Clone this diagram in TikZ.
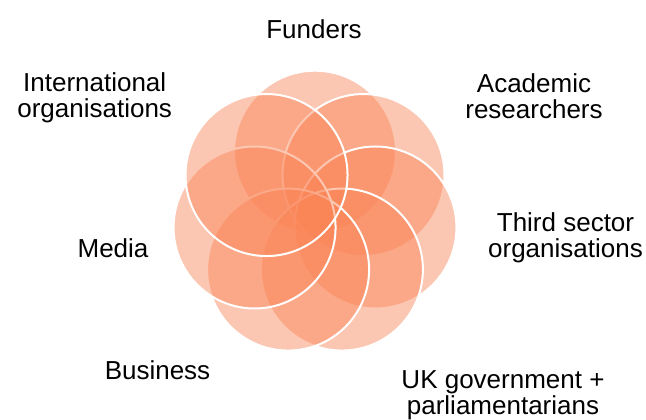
\documentclass[tikz,border=0pt]{standalone}
\usepackage{fontspec}
\setmainfont{Liberation Sans}
\definecolor{PetalFill}{RGB}{250,132,85}
\usetikzlibrary{calc}
\tikzset{
    petal/.style = {fill = PetalFill, fill opacity = 0.45, draw = white, line width = 2pt},
    stakeholder/.style = {align = center, inner sep = 0pt, font = \fontsize{26}{26}\selectfont}
}

\begin{document}
\begin{tikzpicture}[x = 1pt, y = -1pt]

\useasboundingbox[fill = white] (0, 0) rectangle (646, 420);

\coordinate (Hub) at (315, 213.7);
\foreach \k in {0, ..., 6}
    \draw[petal] ($(Hub) + ({-90 + \k*360/7}:62)$) circle [radius = 81];

\node[stakeholder] (Funders) at (314, 29) {Funders};
\node[stakeholder] (Academic) at (534, 96) {Academic\\researchers};
\node[stakeholder] (ThirdSector) at (565.5, 238) {Third sector\\organisations};
\node[stakeholder] (Government) at (503, 395) {UK government +\\parliamentarians};
\node[stakeholder] (Business) at (157.5, 370) {Business};
\node[stakeholder] (Media) at (113, 248) {Media};
\node[stakeholder] (International) at (94.7, 98) {International\\organisations};

\end{tikzpicture}
\end{document}
